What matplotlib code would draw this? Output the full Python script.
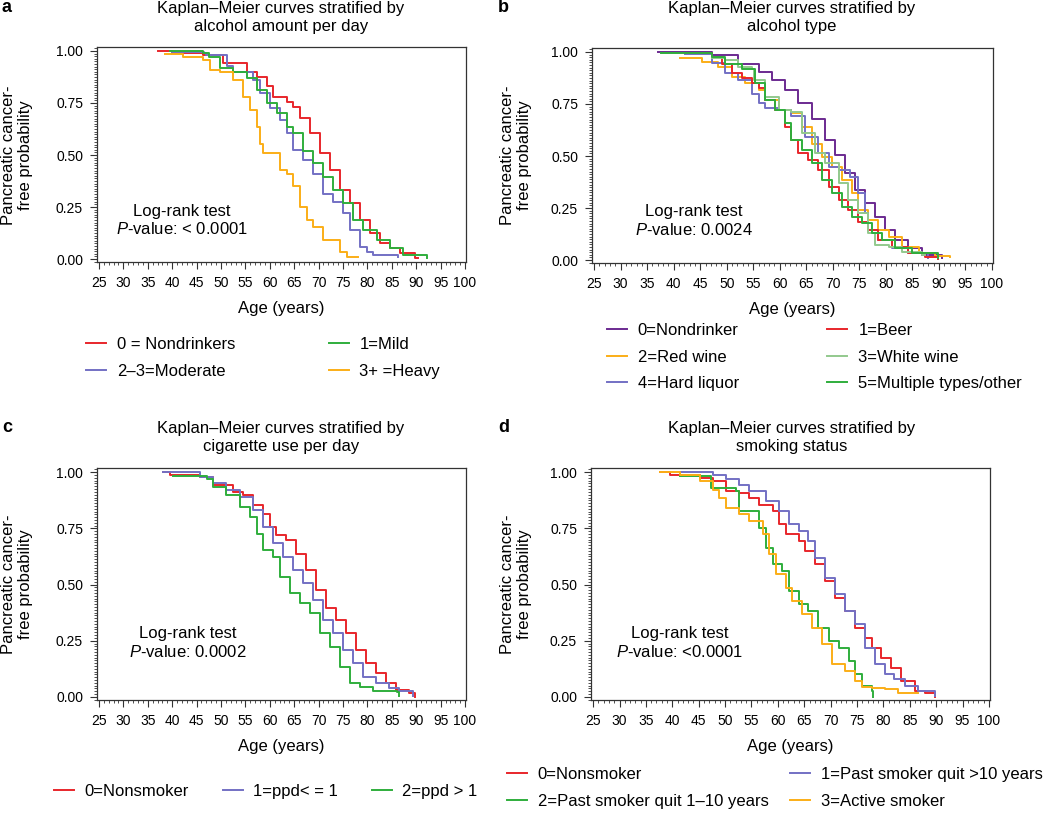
import matplotlib
matplotlib.use("Agg")
import matplotlib.pyplot as plt
from matplotlib.ticker import MultipleLocator, FormatStrFormatter

plt.rcParams['font.family'] = ['Liberation Sans', 'DejaVu Sans']
plt.rcParams['mathtext.fontset'] = 'custom'
plt.rcParams['mathtext.rm'] = 'Liberation Sans'
plt.rcParams['mathtext.it'] = 'Liberation Sans:italic'

# ---- panel a: alcohol amount per day ----
a_nondrink_age = [37.1, 40.0, 46.3, 50.4, 55.3, 57.4, 59.4, 60.7, 63.5, 64.8, 66.2, 68.2, 70.3, 72.3,
                  74.4, 76.4, 78.5, 80.5, 82.6, 84.6, 86.7, 89.8, 90.4]
a_nondrink_s = [1.00, 0.99, 0.98, 0.94, 0.90, 0.876, 0.83, 0.78, 0.755, 0.73, 0.68, 0.605, 0.51, 0.43,
                0.33, 0.27, 0.19, 0.125, 0.077, 0.053, 0.03, 0.005, 0.005]
a_moderate_age = [40.0, 46.5, 47.0, 51.2, 52.5, 56.6, 58.0, 60.0, 62.1, 63.5, 64.8, 66.8, 68.9, 70.9,
                  73.0, 75.0, 76.4, 78.5, 80.0, 81.2, 86.3]
a_moderate_s = [0.995, 0.99, 0.98, 0.93, 0.90, 0.86, 0.80, 0.725, 0.67, 0.605, 0.525, 0.475, 0.41, 0.315,
                0.275, 0.22, 0.14, 0.058, 0.035, 0.02, 0.01]
a_mild_age = [39.5, 46.3, 47.5, 49.8, 52.5, 55.3, 57.4, 59.4, 61.5, 63.5, 64.8, 66.8, 68.9, 70.9, 73.0,
              75.0, 77.0, 79.1, 82.0, 84.6, 87.3, 92.2]
a_mild_s = [1.00, 0.99, 0.97, 0.92, 0.90, 0.87, 0.81, 0.75, 0.70, 0.635, 0.605, 0.52, 0.46, 0.395, 0.33,
            0.27, 0.19, 0.14, 0.09, 0.053, 0.02, 0.005]
a_heavy_age = [38.5, 42.3, 46.3, 47.7, 49.8, 52.5, 54.5, 55.9, 57.4, 58.0, 58.7, 61.5, 62.0, 63.5, 64.8,
               66.2, 67.6, 68.9, 70.9, 74.4, 75.8, 78.1]
a_heavy_s = [0.985, 0.97, 0.955, 0.91, 0.90, 0.86, 0.78, 0.715, 0.635, 0.555, 0.51, 0.51, 0.43, 0.41, 0.35,
             0.25, 0.19, 0.155, 0.09, 0.035, 0.01, 0.01]

# ---- panel b: alcohol type ----
b_nondrink_age = [37.1, 47.2, 52.2, 56.0, 58.5, 61.0, 63.5, 66.0, 68.5, 70.4, 72.3, 74.2, 76.1, 78.0,
                  79.8, 81.7, 84.2, 86.8, 90.5]
b_nondrink_s = [1.0, 0.986, 0.94, 0.905, 0.865, 0.817, 0.753, 0.68, 0.577, 0.505, 0.417, 0.337, 0.272,
                0.208, 0.144, 0.096, 0.056, 0.024, 0.008]
b_beer_age = [45.3, 47.2, 49.1, 51.0, 52.8, 54.7, 56.0, 57.2, 59.1, 61.0, 62.2, 63.5, 65.4, 67.3, 69.2,
              71.1, 72.9, 74.8, 76.7, 78.6, 81.1, 84.2, 87.4, 89.8]
b_beer_s = [0.995, 0.978, 0.94, 0.897, 0.873, 0.85, 0.825, 0.77, 0.72, 0.64, 0.577, 0.513, 0.48, 0.433,
            0.353, 0.288, 0.24, 0.184, 0.144, 0.096, 0.064, 0.032, 0.013, 0.003]
b_red_age = [41.2, 45.3, 48.4, 51.0, 53.5, 56.0, 57.2, 59.8, 62.2, 64.1, 66.0, 67.9, 69.8, 71.7, 73.6,
             74.8, 76.7, 78.6, 80.5, 83.0, 86.2, 89.3, 92.1]
b_red_s = [0.97, 0.954, 0.93, 0.88, 0.85, 0.817, 0.77, 0.72, 0.705, 0.64, 0.56, 0.497, 0.449, 0.385, 0.32,
           0.24, 0.192, 0.144, 0.112, 0.064, 0.032, 0.02, 0.016]
b_white_age = [47.2, 49.7, 52.2, 54.7, 55.1, 57.2, 59.8, 62.2, 64.1, 66.6, 68.5, 71.1, 72.9, 74.8, 76.7,
               78.0, 80.5, 83.0, 86.8, 87.4]
b_white_s = [0.97, 0.96, 0.93, 0.92, 0.865, 0.785, 0.72, 0.71, 0.61, 0.513, 0.465, 0.369, 0.288, 0.224,
             0.128, 0.072, 0.064, 0.04, 0.024, 0.024]
b_liquor_age = [42.1, 47.2, 49.7, 52.2, 54.7, 56.0, 57.2, 59.8, 62.2, 64.8, 67.3, 69.2, 71.1, 73.3, 74.8,
                76.1, 76.7, 78.6, 81.1, 84.2, 88.0]
b_liquor_s = [0.99, 0.945, 0.897, 0.865, 0.80, 0.753, 0.73, 0.72, 0.69, 0.593, 0.513, 0.449, 0.433, 0.40,
              0.32, 0.224, 0.144, 0.096, 0.056, 0.032, 0.008]
b_multi_age = [37.7, 47.2, 49.7, 52.8, 55.4, 57.2, 59.1, 61.0, 62.2, 64.1, 66.0, 67.9, 69.8, 71.7, 73.6,
               75.5, 77.4, 79.2, 81.7, 84.9, 89.8]
b_multi_s = [0.995, 0.978, 0.94, 0.92, 0.85, 0.77, 0.72, 0.657, 0.577, 0.529, 0.465, 0.385, 0.32, 0.256,
             0.208, 0.176, 0.128, 0.096, 0.056, 0.032, 0.008]

# ---- panel c: cigarette use per day ----
c_non_age = [38.2, 39.6, 45.7, 48.4, 52.5, 54.6, 56.6, 58.6, 60.0, 61.3, 63.4, 65.4, 67.5, 69.5, 71.6,
             73.6, 75.6, 77.7, 79.7, 81.8, 83.8, 85.8, 88.6, 89.7]
c_non_s = [1.0, 0.987, 0.98, 0.942, 0.913, 0.898, 0.853, 0.816, 0.757, 0.72, 0.698, 0.638, 0.564, 0.476,
           0.394, 0.342, 0.283, 0.209, 0.15, 0.105, 0.061, 0.031, 0.016, 0.001]
c_le1_age = [38.2, 45.7, 48.4, 51.1, 53.9, 56.6, 58.6, 60.7, 62.7, 64.7, 66.8, 68.8, 70.9, 72.9, 75.0,
             77.0, 79.1, 81.8, 84.5, 86.5, 89.3]
c_le1_s = [1.0, 0.98, 0.95, 0.92, 0.89, 0.831, 0.757, 0.683, 0.624, 0.564, 0.505, 0.431, 0.342, 0.283,
           0.209, 0.15, 0.09, 0.061, 0.039, 0.024, 0.004]
c_gt1_age = [40.2, 47.1, 48.4, 51.1, 53.9, 55.9, 57.3, 58.6, 60.7, 62.1, 64.1, 66.2, 68.2, 70.3, 72.3,
             74.4, 76.4, 78.5, 81.2, 86.0, 86.4]
c_gt1_s = [0.982, 0.972, 0.935, 0.898, 0.846, 0.801, 0.727, 0.653, 0.624, 0.535, 0.461, 0.416, 0.372,
           0.283, 0.224, 0.135, 0.061, 0.046, 0.024, 0.02, 0.005]

# ---- panel d: smoking status ----
d_non_age = [37.7, 39.5, 45.2, 47.7, 50.2, 52.7, 54.6, 56.4, 59.0, 60.2, 61.5, 64.0, 65.2, 67.1, 69.0,
             70.9, 72.7, 74.6, 76.5, 77.8, 79.6, 81.5, 83.4, 85.9, 87.8, 89.7]
d_non_s = [1.0, 0.99, 0.975, 0.96, 0.916, 0.908, 0.886, 0.856, 0.827, 0.768, 0.723, 0.693, 0.649, 0.59,
           0.516, 0.441, 0.382, 0.308, 0.264, 0.219, 0.175, 0.13, 0.071, 0.027, 0.019, 0.0]
d_quit10_age = [41.4, 47.7, 50.2, 52.7, 54.6, 57.7, 60.2, 62.1, 64.0, 65.8, 67.1, 69.0, 70.9, 72.7,
                74.6, 76.5, 78.4, 80.3, 82.1, 84.0, 86.5, 89.7]
d_quit10_s = [1.0, 0.99, 0.972, 0.945, 0.916, 0.87, 0.827, 0.768, 0.738, 0.693, 0.619, 0.53, 0.456,
              0.382, 0.323, 0.219, 0.145, 0.101, 0.079, 0.049, 0.027, 0.004]
d_quit1_age = [41.4, 47.4, 52.1, 52.7, 55.8, 56.4, 57.7, 59.0, 60.8, 62.1, 64.0, 65.8, 67.7, 69.6, 71.5,
               73.4, 74.6, 75.9, 77.8, 78.1]
d_quit1_s = [0.982, 0.93, 0.916, 0.827, 0.827, 0.753, 0.664, 0.59, 0.56, 0.471, 0.412, 0.382, 0.308,
             0.249, 0.219, 0.16, 0.101, 0.049, 0.027, 0.0]
d_active_age = [37.7, 41.4, 45.2, 47.7, 48.9, 50.2, 52.7, 54.6, 57.1, 58.3, 59.6, 61.5, 62.7, 64.6, 66.5,
                68.4, 70.2, 72.7, 74.6, 75.9, 77.8, 80.3, 82.8, 86.5]
d_active_s = [1.0, 0.987, 0.96, 0.923, 0.886, 0.842, 0.812, 0.782, 0.723, 0.634, 0.545, 0.486, 0.427,
              0.367, 0.308, 0.234, 0.145, 0.116, 0.071, 0.042, 0.039, 0.035, 0.019, 0.019]

RED = '#e8262b'
GREEN = '#2fae3c'
BLUE = '#7370c4'
ORANGE = '#fbae17'
DPURPLE = '#6b2a91'
LGREEN = '#93c98d'
FRAME = '#333333'

W, H = 1050, 813
fig = plt.figure(figsize=(W / 100, H / 100), dpi=100)


def px_axes(l, t, r, b):
    return fig.add_axes([l / W, 1 - b / H, (r - l) / W, (b - t) / H])


def style(ax):
    ax.set_xlim(24.6, 100.2)
    ax.set_ylim(-0.014, 1.019)
    ax.xaxis.set_major_locator(MultipleLocator(5))
    ax.xaxis.set_minor_locator(MultipleLocator(1))
    ax.yaxis.set_major_locator(MultipleLocator(0.25))
    ax.yaxis.set_minor_locator(MultipleLocator(0.0125))
    ax.yaxis.set_major_formatter(FormatStrFormatter('%.2f'))
    ax.tick_params(which='major', length=5, width=0.8, color=FRAME, labelsize=10, pad=5)
    ax.tick_params(which='minor', length=2.5, width=0.6, color=FRAME)
    for s in ax.spines.values():
        s.set_color(FRAME)
        s.set_linewidth(0.9)
    ax.set_xlabel('Age (years)', fontsize=12, labelpad=8)


def km(ax, age, s, color, label):
    return ax.plot(age, s, drawstyle='steps-post', color=color, lw=1.4, label=label)[0]


def legend(ax, handles, x, y, ncol, colsp):
    ax.legend(handles=handles, loc='center left', bbox_to_anchor=(x / W, 1 - y / H),
              bbox_transform=fig.transFigure, frameon=False, ncol=ncol, fontsize=12,
              borderpad=0, borderaxespad=0, handlelength=1.2, handletextpad=0.65,
              columnspacing=colsp, labelspacing=0.7)


def ylab(x, y):
    fig.text(x / W, 1 - y / H, 'Pancreatic cancer-\nfree probability', rotation=90, ha='center',
             va='center', fontsize=12, multialignment='center', linespacing=1.1)


def title(x, y, txt):
    fig.text(x / W, 1 - y / H, txt, ha='center', va='center', fontsize=12, linespacing=1.25)


# a
ax = px_axes(97, 47, 466, 262)
style(ax)
h1 = km(ax, a_nondrink_age, a_nondrink_s, RED, '0 = Nondrinkers')
h2 = km(ax, a_moderate_age, a_moderate_s, BLUE, '2\u20133=Moderate')
h3 = km(ax, a_mild_age, a_mild_s, GREEN, '1=Mild')
h4 = km(ax, a_heavy_age, a_heavy_s, ORANGE, '3+ =Heavy')
ax.text(0.23, 0.193, 'Log-rank test\n$P$-value: < 0.0001', transform=ax.transAxes, ha='center',
        va='center', fontsize=12, multialignment='center', linespacing=1.2)
legend(ax, [h1, h2, h3, h4], 86, 358, 2, 5.6)
ylab(17, 155)
title(281, 17.5, 'Kaplan\u2013Meier curves stratified by\nalcohol amount per day')

# b
ax = px_axes(592, 48, 993, 263)
style(ax)
h1 = km(ax, b_nondrink_age, b_nondrink_s, DPURPLE, '0=Nondrinker')
h2 = km(ax, b_red_age, b_red_s, ORANGE, '2=Red wine')
h3 = km(ax, b_liquor_age, b_liquor_s, BLUE, '4=Hard liquor')
h4 = km(ax, b_beer_age, b_beer_s, RED, '1=Beer')
h5 = km(ax, b_white_age, b_white_s, LGREEN, '3=White wine')
h6 = km(ax, b_multi_age, b_multi_s, GREEN, '5=Multiple types/other')
ax.text(0.254, 0.195, 'Log-rank test\n$P$-value: 0.0024', transform=ax.transAxes, ha='center',
        va='center', fontsize=12, multialignment='center', linespacing=1.2)
legend(ax, [h1, h2, h3, h4, h5, h6], 607, 357, 2, 5.3)
ylab(516, 155)
title(792, 17.5, 'Kaplan\u2013Meier curves stratified by\nalcohol type')

# c
ax = px_axes(97, 468, 466, 700)
style(ax)
h1 = km(ax, c_non_age, c_non_s, RED, '0=Nonsmoker')
h2 = km(ax, c_le1_age, c_le1_s, BLUE, '1=ppd< = 1')
h3 = km(ax, c_gt1_age, c_gt1_s, GREEN, '2=ppd > 1')
ax.text(0.247, 0.246, 'Log-rank test\n$P$-value: 0.0002', transform=ax.transAxes, ha='center',
        va='center', fontsize=12, multialignment='center', linespacing=1.2)
legend(ax, [h1, h2, h3], 54, 791, 3, 2.0)
ylab(17, 584)
title(281, 437, 'Kaplan\u2013Meier curves stratified by\ncigarette use per day')

# d
ax = px_axes(591, 468, 990, 700)
style(ax)
h1 = km(ax, d_non_age, d_non_s, RED, '0=Nonsmoker')
h2 = km(ax, d_quit1_age, d_quit1_s, GREEN, '2=Past smoker quit 1\u201310 years')
h3 = km(ax, d_quit10_age, d_quit10_s, BLUE, '1=Past smoker quit >10 years')
h4 = km(ax, d_active_age, d_active_s, ORANGE, '3=Active smoker')
ax.text(0.223, 0.246, 'Log-rank test\n$P$-value: <0.0001', transform=ax.transAxes, ha='center',
        va='center', fontsize=12, multialignment='center', linespacing=1.2)
legend(ax, [h1, h2, h3, h4], 507, 788, 2, 1.3)
ylab(516, 584)
title(792, 437, 'Kaplan\u2013Meier curves stratified by\nsmoking status')

for letter, x, y in [('a', 2, 8), ('b', 498, 8), ('c', 2, 427), ('d', 498, 427)]:
    fig.text(x / W, 1 - y / H, letter, ha='left', va='center', fontsize=13, fontweight='bold')

fig.savefig('out.png', dpi=100)
